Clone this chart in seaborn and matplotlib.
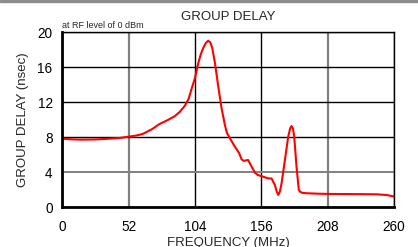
import matplotlib
matplotlib.use("Agg")
import matplotlib.pyplot as plt
import seaborn as sns
from matplotlib.patches import Rectangle

# Group delay vs frequency
freq_mhz = [0, 8, 15, 25, 35, 45, 52, 58, 63, 70, 76, 83, 88, 92, 96, 99, 101, 104,
            106.6, 108.5, 110.4, 112.5, 114.3, 116, 117.5, 119.6, 122.2, 124.8, 127.4,
            129, 131.3, 135.2, 138.6, 140.4, 142, 145.6, 148.3, 150.9, 153, 156.1,
            161.3, 164, 166.5, 168, 169.2, 170.5, 171.8, 174.4, 177, 178.5, 179.6,
            180.7, 181.7, 183.5, 185.3, 186.5, 188, 191.4, 200, 208.3, 230, 246.2,
            254, 259.2, 260]
delay_ns = [7.84, 7.76, 7.73, 7.75, 7.82, 7.92, 8.07, 8.2, 8.38, 8.9, 9.5, 10.0, 10.4,
            10.9, 11.6, 12.4, 13.4, 14.8, 16.5, 17.5, 18.2, 18.8, 19.04, 18.85, 18.2,
            16.5, 13.8, 11.3, 9.4, 8.5, 7.89, 6.93, 6.17, 5.5, 5.3, 5.4, 4.64, 3.95,
            3.7, 3.55, 3.3, 3.28, 2.55, 1.8, 1.41, 1.8, 2.74, 5.4, 8.07, 9.0, 9.29,
            9.0, 8.07, 4.64, 1.98, 1.75, 1.65, 1.6, 1.55, 1.52, 1.5, 1.48, 1.4, 1.25,
            1.2]

x_ticks = [0, 52, 104, 156, 208, 260]
y_ticks = [0, 4, 8, 12, 16, 20]

sns.set_style("white")
plt.rcParams['font.family'] = ['Liberation Sans', 'DejaVu Sans']

fig = plt.figure(figsize=(4.18, 2.47), dpi=100)
ax = fig.add_axes([0.149, 0.161, 0.794, 0.708])

sns.lineplot(x=freq_mhz, y=delay_ns, color='#ff0000', linewidth=1.5, ax=ax)

ax.set_xlim(0, 260)
ax.set_ylim(0, 20)
ax.set_xticks(x_ticks)
ax.set_yticks(y_ticks)
ax.tick_params(axis='both', labelsize=9.8, length=3, width=1, color='black',
               direction='out', colors='black')
ax.tick_params(axis='x', pad=6)
ax.tick_params(axis='y', pad=4)

ax.grid(True, zorder=0)
ax.set_axisbelow(True)
for i, gl in enumerate(ax.xaxis.get_gridlines()):
    if i in (1, 4):
        gl.set_color('#808080')
        gl.set_linewidth(1.6)
    else:
        gl.set_color('black')
        gl.set_linewidth(1.0)
for i, gl in enumerate(ax.yaxis.get_gridlines()):
    if i == 1:
        gl.set_color('#808080')
        gl.set_linewidth(1.4)
    else:
        gl.set_color('black')
        gl.set_linewidth(1.0)

for side in ['top', 'right']:
    ax.spines[side].set_color('black')
    ax.spines[side].set_linewidth(1.0)
for side in ['left', 'bottom']:
    ax.spines[side].set_color('black')
    ax.spines[side].set_linewidth(2.0)

ax.set_xlabel('FREQUENCY (MHz)', fontsize=9.5, labelpad=2)
ax.set_ylabel('GROUP DELAY (nsec)', fontsize=9.5, labelpad=6)
ax.set_title('GROUP DELAY', fontsize=9.5, pad=9)
ax.text(0.0, 1.012, 'at RF level of 0 dBm', transform=ax.transAxes,
        fontsize=6.5, ha='left', va='bottom')

# grey strip along the top edge of the figure
fig.patches.append(Rectangle((0, 0.99), 1, 0.01, transform=fig.transFigure,
                             color='#8c8c8c', zorder=5))

fig.savefig('out.png', dpi=100)
